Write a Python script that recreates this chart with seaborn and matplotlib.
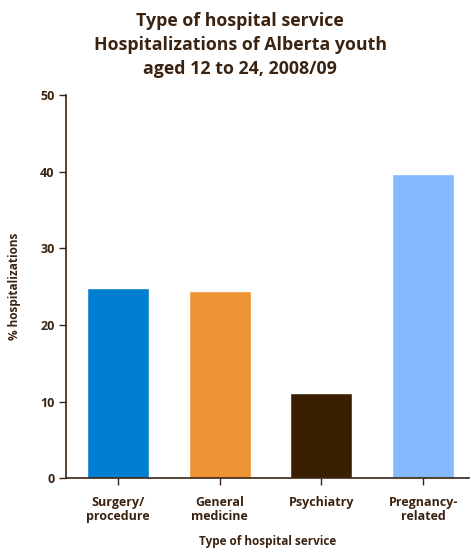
import matplotlib
matplotlib.use("Agg")
import matplotlib.pyplot as plt
import seaborn as sns
import pandas as pd

# Share of hospitalizations by type of service, Alberta youth 12-24, 2008/09
services = ["Surgery/\nprocedure", "General\nmedicine", "Psychiatry", "Pregnancy-\nrelated"]
percent = [24.8, 24.5, 11.1, 39.7]
bar_colors = ["#007FD0", "#EE9333", "#3A1F02", "#85B9FF"]
y_ticks = [0, 10, 20, 30, 40, 50]

brown = "#3B2312"

sns.set_theme(style="white")
plt.rcParams["font.family"] = ["Open Sans", "DejaVu Sans"]

df = pd.DataFrame({"service": services, "percent": percent})

fig = plt.figure(figsize=(4.71, 5.52), dpi=100)
ax = fig.add_axes([0.1408, 0.1335, 0.855, 0.6939])

sns.barplot(data=df, x="service", y="percent", hue="service",
            palette=bar_colors, width=0.61, saturation=1, legend=False, ax=ax)

ax.set_xlim(-0.507, 3.45)
ax.set_ylim(0, 50)
ax.set_yticks(y_ticks)
ax.set_yticklabels([str(t) for t in y_ticks])

for side in ("top", "right"):
    ax.spines[side].set_visible(False)
for side in ("left", "bottom"):
    ax.spines[side].set_color(brown)
    ax.spines[side].set_linewidth(1.2)

ax.tick_params(axis="both", direction="out", length=5, width=1.0, color=brown,
               labelcolor=brown, labelsize=9, left=True, bottom=True)
ax.tick_params(axis="x", pad=8)
for lbl in ax.get_xticklabels() + ax.get_yticklabels():
    lbl.set_fontweight("bold")
for lbl in ax.get_xticklabels():
    lbl.set_linespacing(1.05)

ax.set_xlabel("Type of hospital service", fontsize=8.5, fontweight="bold",
              color=brown, labelpad=9)
ax.set_ylabel("% hospitalizations", fontsize=8.5, fontweight="bold",
              color=brown, labelpad=14)

fig.text(0.51, 0.979, "Type of hospital service\nHospitalizations of Alberta youth\naged 12 to 24, 2008/09",
         ha="center", va="top", fontsize=12.8, fontweight="bold", color=brown,
         linespacing=1.45)

fig.savefig("out.png", dpi=100)
